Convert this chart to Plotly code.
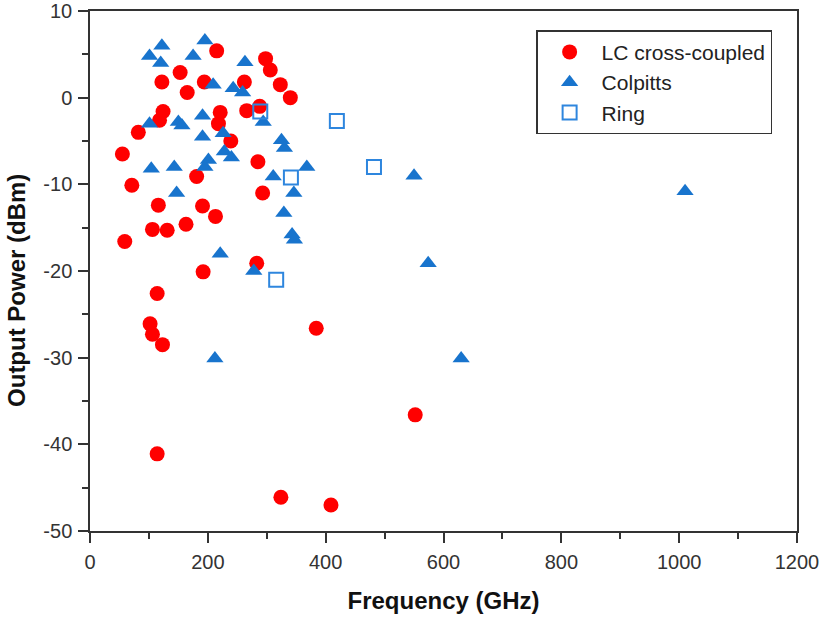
import plotly.graph_objects as go

lc_freq = [55, 59, 71, 82, 106, 131, 102, 106, 123, 114, 114, 116, 118, 124, 122, 153, 165, 163,
           181, 191, 192, 194, 213, 215, 221, 218, 239, 262, 266, 288, 285, 283, 293, 298, 306,
           323, 340, 384, 324, 409, 552]
lc_pow = [-6.5, -16.6, -10.1, -4.0, -15.2, -15.3, -26.1, -27.3, -28.5, -22.6, -41.1, -12.4, -2.6,
          -1.6, 1.8, 2.9, 0.6, -14.6, -9.1, -12.5, -20.1, 1.8, -13.7, 5.4, -1.7, -3.0, -5.0, 1.8,
          -1.5, -1.0, -7.4, -19.1, -11.0, 4.5, 3.2, 1.5, 0.0, -26.6, -46.1, -47.0, -36.6]

col_freq = [195, 122, 101, 175, 120, 263, 209, 243, 259, 101, 150, 156, 191, 226, 191, 228, 240,
            325, 330, 201, 195, 104, 143, 311, 368, 346, 147, 294, 329, 343, 347, 221, 278, 212,
            550, 574, 630, 1010]
col_pow = [6.6, 6.0, 4.8, 4.8, 4.0, 4.1, 1.5, 1.1, 0.6, -3.0, -2.8, -3.2, -2.1, -4.1, -4.5, -6.2,
           -6.9, -4.9, -5.8, -7.2, -8.0, -8.2, -8.0, -9.1, -8.0, -11.0, -11.0, -2.8, -13.3, -15.8,
           -16.4, -18.0, -20.0, -30.1, -9.0, -19.1, -30.1, -10.8]

ring_freq = [289, 419, 341, 482, 316]
ring_pow = [-1.6, -2.7, -9.2, -8.0, -21.0]

x_ticks = [0, 200, 400, 600, 800, 1000, 1200]
y_ticks = [-50, -40, -30, -20, -10, 0, 10]
y_ticktext = [str(v) for v in y_ticks]

blue = "#1874CD"

fig = go.Figure()
fig.add_trace(go.Scatter(x=lc_freq, y=lc_pow, mode="markers", name="LC cross-coupled",
                         marker=dict(symbol="circle", size=15, color="#FF0000")))
fig.add_trace(go.Scatter(x=col_freq, y=col_pow, mode="markers", name="Colpitts",
                         marker=dict(symbol="triangle-up", size=15, color=blue)))
fig.add_trace(go.Scatter(x=ring_freq, y=ring_pow, mode="markers", name="Ring",
                         marker=dict(symbol="square-open", size=14, color="#2E86DE",
                                     line=dict(width=2, color="#2E86DE"))))

axis_common = dict(showline=True, linecolor="#333", linewidth=1.5, mirror=True,
                   ticks="outside", ticklen=10, tickwidth=1.5, tickcolor="#333",
                   showgrid=False, zeroline=False, automargin=False)

fig.update_layout(
    width=827, height=620,
    margin=dict(l=90, r=30, t=11, b=89),
    plot_bgcolor="white", paper_bgcolor="white",
    font=dict(family="Liberation Sans, Arial", color="#222"),
    xaxis=dict(range=[0, 1200], tickvals=x_ticks,
               minor=dict(ticks="outside", ticklen=6, tickcolor="#333", dtick=100),
               tickfont=dict(size=20, family="Liberation Sans Narrow, Liberation Sans", color="#333"),
               ticklabelstandoff=2,
               title=dict(text="<b>Frequency (GHz)</b>", font=dict(size=24, color="#111"),
                          standoff=20),
               **axis_common),
    yaxis=dict(range=[-50, 10], tickvals=y_ticks, ticktext=y_ticktext,
               minor=dict(ticks="outside", ticklen=6, tickcolor="#333", dtick=5),
               tickfont=dict(size=20, color="#333"),
               ticklabelstandoff=2,
               **axis_common),
    annotations=[dict(text="<b>Output Power (dBm)</b>", textangle=-90,
                      xref="paper", yref="paper", x=-0.1033, y=0.4635,
                      xanchor="center", yanchor="middle", showarrow=False,
                      font=dict(size=24, color="#111"))],
    legend=dict(x=0.631, y=0.963, xanchor="left", yanchor="top",
                bordercolor="#333", borderwidth=1.5, bgcolor="white",
                font=dict(size=21, color="#222"), itemwidth=54,
                tracegroupgap=0),
    showlegend=True,
)

fig.write_html("out.html")
